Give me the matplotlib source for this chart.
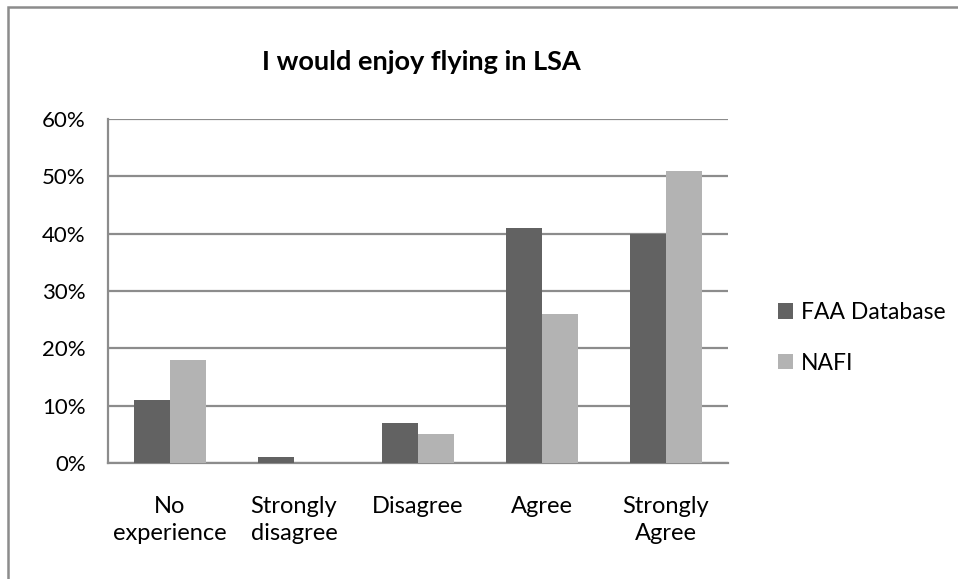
import matplotlib
matplotlib.use("Agg")
import matplotlib.pyplot as plt
from matplotlib.patches import Rectangle
from matplotlib.ticker import PercentFormatter
import numpy as np

plt.rcParams['font.family'] = ['Lato', 'DejaVu Sans']

categories = ["No\nexperience", "Strongly\ndisagree", "Disagree", "Agree", "Strongly\nAgree"]
faa_database = [11, 1, 7, 41, 40]
nafi = [18, 0, 5, 26, 51]
series_names = ["FAA Database", "NAFI"]
y_ticks = [0, 10, 20, 30, 40, 50, 60]

faa_color = "#626262"
nafi_color = "#b3b3b3"
grid_color = "#8c8c8c"

fig = plt.figure(figsize=(9.58, 5.79), dpi=100)

# outer chart frame
fig.patches.append(Rectangle((8 / 958, -0.1), 1.2, 1.1 - 7 / 579,
                             transform=fig.transFigure, fill=False,
                             edgecolor="#8c8c8c", linewidth=1.8, zorder=0))

ax = fig.add_axes([108 / 958, 116 / 579, 620 / 958, 344 / 579])

x = np.arange(len(categories))
width = 0.288
ax.bar(x - width / 2, faa_database, width, color=faa_color, label=series_names[0], zorder=3)
ax.bar(x + width / 2, nafi, width, color=nafi_color, label=series_names[1], zorder=3)

ax.set_xlim(-0.5, len(categories) - 0.5)
ax.set_ylim(0, 60)
ax.set_yticks(y_ticks)
ax.yaxis.set_major_formatter(PercentFormatter(decimals=0))
ax.set_xticks(x)
ax.set_xticklabels(categories, fontsize=17, linespacing=1.36)
ax.tick_params(axis="y", labelsize=16, length=0, pad=16)
ax.tick_params(axis="x", length=0, pad=24)

ax.grid(axis="y", color=grid_color, linewidth=1.6, zorder=1)
for side in ("top", "right"):
    ax.spines[side].set_visible(False)
for side in ("left", "bottom"):
    ax.spines[side].set_color(grid_color)
    ax.spines[side].set_linewidth(1.6)

fig.text(0.440, 0.893, "I would enjoy flying in LSA", ha="center", va="center",
         fontsize=19.5, fontweight="bold")

fig.legend(loc="center left", bbox_to_anchor=(769 / 958, 1 - 338 / 579),
           frameon=False, fontsize=16.5, handlelength=0.64, handleheight=0.64,
           handletextpad=0.35, labelspacing=1.3, borderaxespad=0)

fig.savefig("out.png", dpi=100)
